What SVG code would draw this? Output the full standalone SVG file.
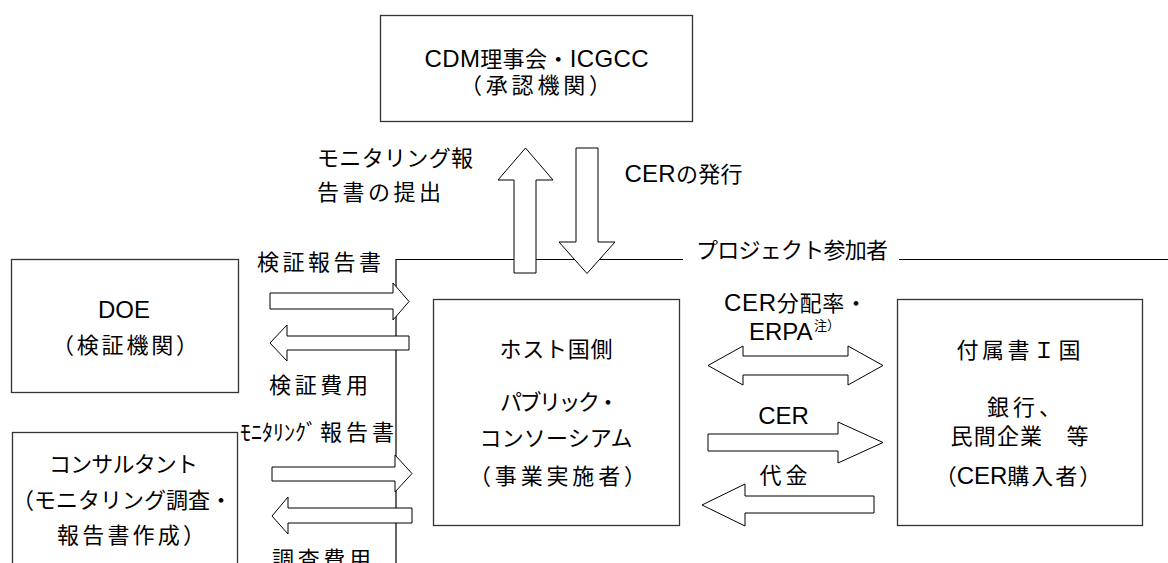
<svg xmlns="http://www.w3.org/2000/svg" width="1168" height="563" viewBox="0 0 1168 563">
<style>
.t{font-family:"Liberation Sans","Noto Sans CJK JP",sans-serif;font-size:22px;fill:#000}
.m{text-anchor:middle}
.l{font-size:24px}
.box{fill:#fff;stroke:#333;stroke-width:1.3}
.arr{fill:#fff;stroke:#000;stroke-width:1}
.ln{fill:none;stroke:#000;stroke-width:1.2}
</style>
<rect width="1168" height="563" fill="#fff"/>

<g id="participants-boundary">
<polyline class="ln" points="396,563 396,259.5 683,259.5"/>
<line class="ln" x1="899" y1="259.5" x2="1168" y2="259.5"/>
<text class="t m" x="792" y="258" textLength="192" lengthAdjust="spacing">プロジェクト参加者</text>
</g>

<g id="node-cdm">
<rect class="box" x="380.5" y="15.5" width="312" height="106"/>
<text class="t m" x="536.5" y="67" textLength="224" lengthAdjust="spacing"><tspan class="l">CDM</tspan>理事会・<tspan class="l">ICGCC</tspan></text>
<text class="t m" x="535.5" y="93" textLength="151" lengthAdjust="spacing">（承認機関）</text>
</g>

<g id="node-doe">
<rect class="box" x="11.5" y="259.5" width="227" height="133"/>
<text class="t m l" x="124" y="318">DOE</text>
<text class="t m" x="125" y="353" textLength="146" lengthAdjust="spacing">（検証機関）</text>
</g>

<g id="node-consultant">
<rect class="box" x="12.5" y="432.5" width="225" height="140"/>
<text class="t m" x="123.5" y="472" textLength="149" lengthAdjust="spacing">コンサルタント</text>
<text class="t" x="12" y="508">（モニタリング調査・</text>
<text class="t" x="57" y="543" textLength="148" lengthAdjust="spacing">報告書作成）</text>
</g>

<g id="node-host">
<rect class="box" x="433.5" y="299.5" width="246" height="226"/>
<text class="t m" x="556" y="357" textLength="113" lengthAdjust="spacing">ホスト国側</text>
<text class="t" x="500" y="410" textLength="119" lengthAdjust="spacing">パブリック・</text>
<text class="t m" x="556" y="446" textLength="153" lengthAdjust="spacing">コンソーシアム</text>
<text class="t m" x="557.5" y="484" textLength="177" lengthAdjust="spacing">（事業実施者）</text>
</g>

<g id="node-annex1">
<rect class="box" x="897.5" y="299.5" width="245" height="226"/>
<text class="t m" x="1018.5" y="358" textLength="124" lengthAdjust="spacing">付属書Ｉ国</text>
<text class="t" x="987" y="415" textLength="74" lengthAdjust="spacing">銀行、</text>
<text class="t m" x="1019.5" y="444" textLength="138" lengthAdjust="spacing">民間企業　等</text>
<text class="t m" x="1018" y="484">（<tspan class="l">CER</tspan><tspan letter-spacing="2">購入者</tspan>）</text>
</g>

<g id="connectors">
<polygon class="arr" points="514,273 514,180 498,180 525.5,148 553,180 536,180 536,273"/>
<polygon class="arr" points="576,148 598,148 598,242 615,242 587,273.5 559,242 576,242"/>
<polygon class="arr" points="270,293 393,293 393,283 409,301.5 393,320 393,309 270,309"/>
<polygon class="arr" points="270,343 287,325 287,336 409,336 409,350 287,350 287,361"/>
<polygon class="arr" points="272,467 395,467 395,455 412,473.5 395,492 395,481 272,481"/>
<polygon class="arr" points="272,516 288,497 288,508 412,508 412,523 288,523 288,534"/>
<polygon class="arr" points="708,365.5 743,346 743,356 848,356 848,346 883,365.5 848,385 848,375 743,375 743,385"/>
<polygon class="arr" points="708,434 838,434 838,422 883,442.5 838,463 838,451 708,451"/>
<polygon class="arr" points="702,505 745,484 745,496 874,496 874,513 745,513 745,526"/>

<text class="t m" x="395" y="166" textLength="156" lengthAdjust="spacing">モニタリング報</text>
<text class="t m" x="379" y="200" textLength="124" lengthAdjust="spacing">告書の提出</text>
<text class="t m" x="683.5" y="182" textLength="118" lengthAdjust="spacing"><tspan class="l">CER</tspan>の発行</text>
<text class="t m" x="319" y="270" textLength="124" lengthAdjust="spacing">検証報告書</text>
<text class="t m" x="318.5" y="393" textLength="99" lengthAdjust="spacing">検証費用</text>
<text class="t" x="240" y="440">ﾓﾆﾀﾘﾝｸﾞ<tspan dx="3" letter-spacing="4">報告書</tspan></text>
<text class="t m" x="321.5" y="567" textLength="99" lengthAdjust="spacing">調査費用</text>
<text class="t" x="724" y="311" textLength="143" lengthAdjust="spacing"><tspan class="l">CER</tspan>分配率・</text>
<text class="t l" x="749" y="340">ERPA</text>
<text class="t" x="814" y="330" style="font-size:13px">注）</text>
<text class="t m l" x="783.5" y="424">CER</text>
<text class="t m" x="783.5" y="483" textLength="48" lengthAdjust="spacing">代金</text>
</g>
</svg>
